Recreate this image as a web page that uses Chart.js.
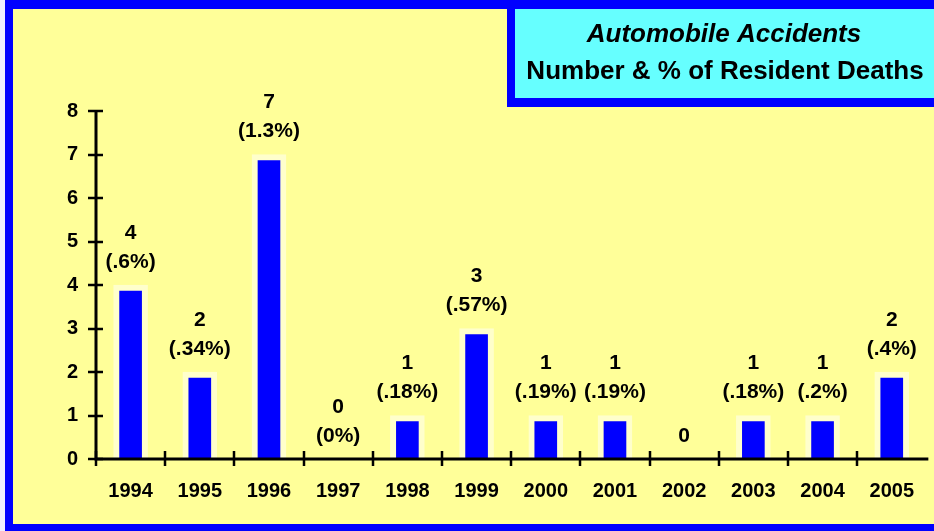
<!DOCTYPE html>
<html>
<head>
<meta charset="utf-8">
<script src="https://cdn.jsdelivr.net/npm/chart.js@4/dist/chart.umd.min.js"></script>
<style>
    body { margin: 0; background: #ffffff; }
    canvas { display: block; }
</style>
</head>
<body>
<canvas id="chartAccidents" width="934" height="531"></canvas>
<script>
var years = ['1994', '1995', '1996', '1997', '1998', '1999', '2000', '2001', '2002', '2003', '2004', '2005'];
var deaths = [4, 2, 7, 0, 1, 3, 1, 1, 0, 1, 1, 2];
var pctLabels = ['(.6%)', '(.34%)', '(1.3%)', '(0%)', '(.18%)', '(.57%)', '(.19%)', '(.19%)', '', '(.18%)', '(.2%)', '(.4%)'];
var yTicks = [0, 1, 2, 3, 4, 5, 6, 7, 8];
var titleLines = ['Automobile Accidents', 'Number & % of Resident Deaths'];

var FONT = '"Liberation Sans", Arial, sans-serif';

// background, blue frame, title box
var framePlugin = {
    id: 'frame',
    beforeDraw: function (chart) {
        var ctx = chart.ctx;
        ctx.save();
        ctx.fillStyle = '#eeeeff';
        ctx.fillRect(0, 0, chart.width, chart.height);
        ctx.fillStyle = '#0000ff';
        ctx.fillRect(5, 0, chart.width - 5, chart.height);
        ctx.fillStyle = '#ffff99';
        ctx.fillRect(13, 9, chart.width - 13, 515);
        ctx.restore();
    },
    afterDraw: function (chart) {
        var ctx = chart.ctx;
        ctx.save();
        // title box
        ctx.fillStyle = '#0000ff';
        ctx.fillRect(507, 0, chart.width - 507, 107);
        ctx.fillStyle = '#66ffff';
        ctx.fillRect(515, 9, chart.width - 515, 89);
        ctx.fillStyle = '#000000';
        ctx.textAlign = 'center';
        ctx.textBaseline = 'middle';
        ctx.font = 'italic bold 26px ' + FONT;
        ctx.fillText(titleLines[0], 724, 35);
        ctx.font = 'bold 26px ' + FONT;
        ctx.fillText(titleLines[1], 725, 72);
        ctx.restore();
    }
};

// axes with crossing tick marks
var axesPlugin = {
    id: 'axesCross',
    afterDatasetsDraw: function (chart) {
        var ctx = chart.ctx;
        var xs = chart.scales.x;
        var ys = chart.scales.y;
        var area = chart.chartArea;
        ctx.save();
        ctx.strokeStyle = '#000000';
        ctx.lineWidth = 3;
        ctx.beginPath();
        ctx.moveTo(area.left, area.top);
        ctx.lineTo(area.left, area.bottom);
        ctx.lineTo(area.right + 2, area.bottom);
        ctx.stroke();
        ctx.lineWidth = 2.5;
        ctx.beginPath();
        for (var i = 0; i < yTicks.length; i++) {
            var py = Math.round(ys.getPixelForValue(yTicks[i]));
            ctx.moveTo(area.left - 8, py);
            ctx.lineTo(area.left + 7, py);
        }
        for (var j = 0; j < years.length; j++) {
            var px = Math.round(xs.getPixelForValue(j) - xs.width / years.length / 2);
            ctx.moveTo(px, area.bottom - 8);
            ctx.lineTo(px, area.bottom + 7);
        }
        ctx.stroke();
        ctx.restore();
    }
};

// value + percent labels above bars
var labelsPlugin = {
    id: 'barLabels',
    afterDatasetsDraw: function (chart) {
        var ctx = chart.ctx;
        var meta = chart.getDatasetMeta(0);
        ctx.save();
        ctx.fillStyle = '#000000';
        ctx.font = 'bold 21px ' + FONT;
        ctx.textAlign = 'center';
        ctx.textBaseline = 'middle';
        meta.data.forEach(function (bar, i) {
            var top = chart.scales.y.getPixelForValue(deaths[i]);
            if (pctLabels[i]) {
                ctx.fillText(String(deaths[i]), bar.x, top - 52);
                ctx.fillText(pctLabels[i], bar.x, top - 23);
            } else {
                ctx.fillText(String(deaths[i]), bar.x, top - 23);
            }
        });
        ctx.restore();
    }
};

var ctx = document.getElementById('chartAccidents').getContext('2d');
var chart = new Chart(ctx, {
    type: 'bar',
    data: {
        labels: years,
        datasets: [{
            data: deaths,
            backgroundColor: '#0000ff',
            borderColor: '#ffffcc',
            borderWidth: {top: 6, left: 6, right: 6, bottom: 0},
            borderSkipped: 'start',
            barThickness: 34
        }]
    },
    options: {
        responsive: false,
        animation: false,
        devicePixelRatio: 1,
        layout: {padding: {left: 0, top: 111, right: 0, bottom: 0}},
        plugins: {
            legend: {display: false},
            tooltip: {enabled: false},
            title: {display: false}
        },
        scales: {
            x: {
                grid: {display: false, drawTicks: false},
                border: {display: false},
                ticks: {
                    color: '#000000',
                    font: {family: FONT, size: 20, weight: 'bold'},
                    padding: 20,
                    maxRotation: 0,
                    autoSkip: false
                },
                afterFit: function (scale) { scale.height = 72; }
            },
            y: {
                min: 0,
                max: 8,
                grid: {display: false, drawTicks: false},
                border: {display: false},
                ticks: {
                    stepSize: 1,
                    color: '#000000',
                    font: {family: FONT, size: 20, weight: 'bold'},
                    padding: 18
                },
                afterFit: function (scale) { scale.width = 96; }
            }
        }
    },
    plugins: [framePlugin, axesPlugin, labelsPlugin]
});
</script>
</body>
</html>
